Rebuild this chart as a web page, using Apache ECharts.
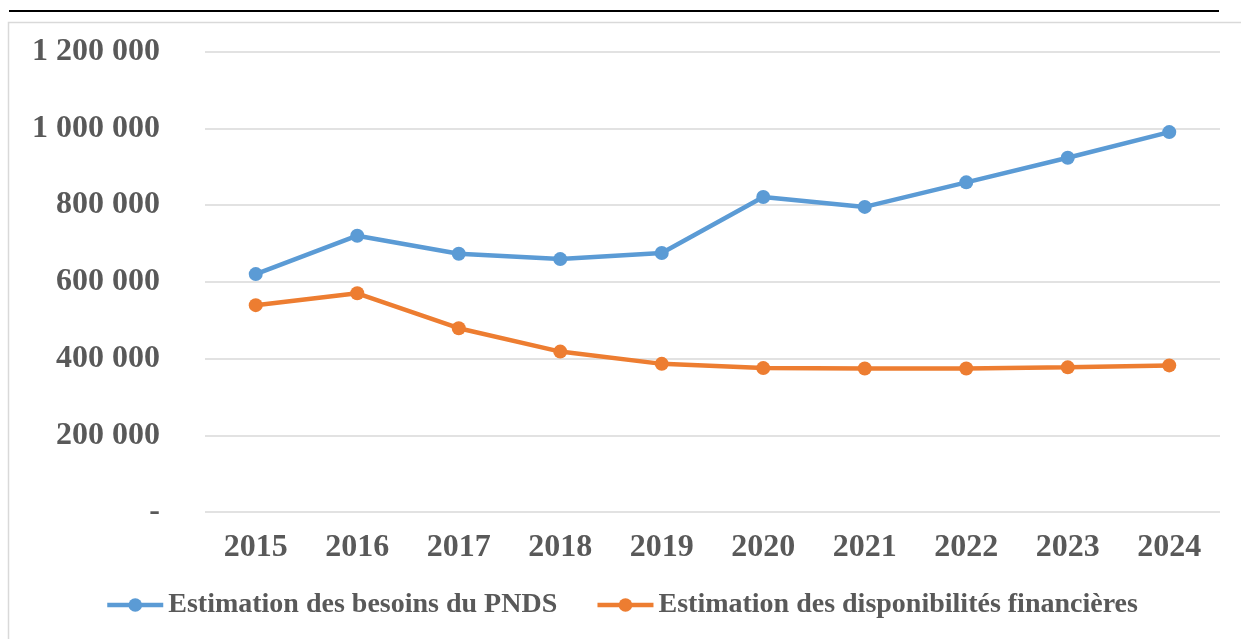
<!DOCTYPE html>
<html>
<head>
<meta charset="utf-8">
<script src="https://cdn.jsdelivr.net/npm/echarts@6/dist/echarts.min.js"></script>
<style>
  html, body { margin: 0; padding: 0; background: #fff; }
  #chart { width: 1241px; height: 639px; }
</style>
</head>
<body>
<div id="chart"></div>
<script>
var years = ['2015', '2016', '2017', '2018', '2019', '2020', '2021', '2022', '2023', '2024'];
var besoins = [620000, 720000, 673000, 659000, 675000, 821000, 795000, 859000, 923000, 990000];
var disponibilites = [539000, 570000, 479000, 418000, 386000, 375000, 374000, 374000, 377000, 382000];
var seriesNames = ['Estimation des besoins du PNDS', 'Estimation des disponibilités financières'];

var font = '"Liberation Serif", "DejaVu Serif", serif';
var textColor = '#595959';

function fmt(v) {
  if (v === 0) return '-';
  return String(v).replace(/\B(?=(\d{3})+(?!\d))/g, ' ');
}

var mychart = echarts.init(document.getElementById('chart'));

var option = {
  animation: false,
  graphic: [
    { type: 'line', shape: { x1: 9, y1: 11, x2: 1219, y2: 11 }, style: { stroke: '#000', lineWidth: 2 } },
    { type: 'rect', shape: { x: 8.5, y: 22.5, width: 1300, height: 700 }, style: { fill: 'none', stroke: '#d9d9d9', lineWidth: 1.5 } }
  ],
  grid: { left: 205, right: 21, top: 51.5, bottom: 127, containLabel: false },
  legend: {
    left: 100,
    top: 586,
    itemWidth: 56,
    itemHeight: 17,
    itemGap: 38,
    lineStyle: { width: 4.5 },
    textStyle: { fontFamily: font, fontWeight: 'bold', fontSize: 28, color: textColor },
    data: seriesNames
  },
  xAxis: {
    type: 'category',
    data: years,
    boundaryGap: true,
    axisLine: { show: false },
    axisTick: { show: false },
    axisLabel: { margin: 20, fontFamily: font, fontWeight: 'bold', fontSize: 32, color: textColor }
  },
  yAxis: {
    type: 'value',
    min: 0,
    max: 1200000,
    interval: 200000,
    axisLine: { show: false },
    axisTick: { show: false },
    splitLine: { lineStyle: { color: '#d9d9d9', width: 1.5 } },
    axisLabel: { margin: 45, fontFamily: font, fontWeight: 'bold', fontSize: 32, color: textColor, formatter: fmt }
  },
  series: [
    {
      name: seriesNames[0],
      type: 'line',
      data: besoins,
      symbol: 'circle',
      symbolSize: 14,
      lineStyle: { width: 4.5, color: '#5b9bd5' },
      itemStyle: { color: '#5b9bd5' }
    },
    {
      name: seriesNames[1],
      type: 'line',
      data: disponibilites,
      symbol: 'circle',
      symbolSize: 14,
      lineStyle: { width: 4.5, color: '#ed7d31' },
      itemStyle: { color: '#ed7d31' }
    }
  ]
};

mychart.setOption(option);
</script>
</body>
</html>
